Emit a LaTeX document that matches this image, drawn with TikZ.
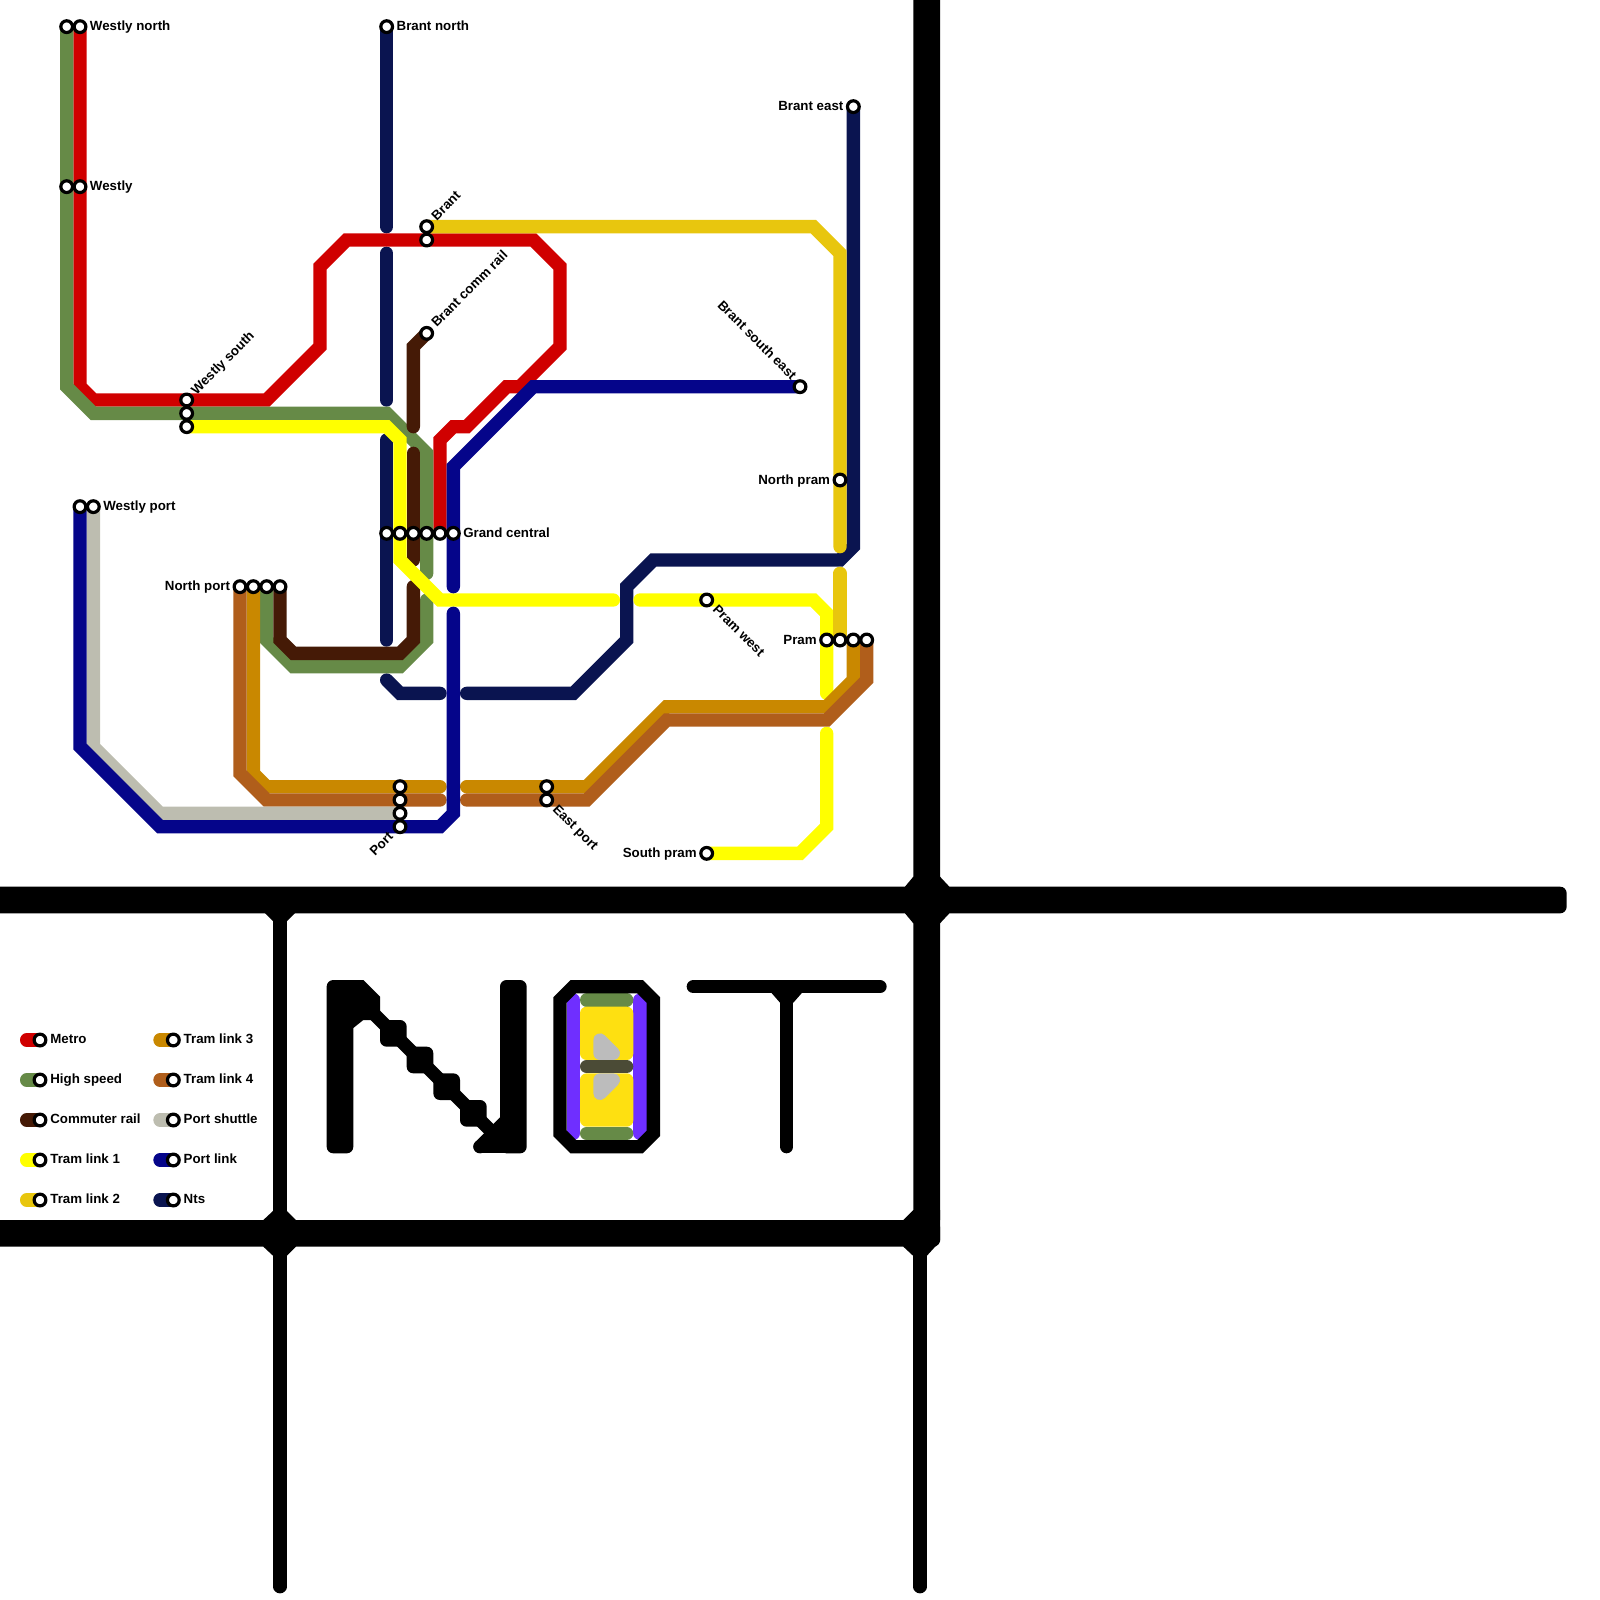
\documentclass[tikz,border=0pt]{standalone}
\usepackage{fontspec}
\setmainfont{Liberation Sans}
\definecolor{cMetro}{HTML}{D00000}
\definecolor{cHigh}{HTML}{668A47}
\definecolor{cComm}{HTML}{451A06}
\definecolor{cTramA}{HTML}{FFFF00}
\definecolor{cTramB}{HTML}{E8C60E}
\definecolor{cTramC}{HTML}{C98800}
\definecolor{cTramD}{HTML}{B05E1B}
\definecolor{cShut}{HTML}{BDBDB0}
\definecolor{cPort}{HTML}{05058A}
\definecolor{cNts}{HTML}{0A1450}
\definecolor{cPurple}{HTML}{6F2FFF}
\definecolor{cGold}{HTML}{FEE011}
\definecolor{cDark}{HTML}{4B4B36}
\definecolor{cGrey}{HTML}{BCBCBC}
\tikzset{
  rail/.style={line width=0.25cm,line cap=round,line join=miter,miter limit=10},
  blk/.style={rail,draw=black},
  bar/.style={fill=black,rounded corners=3.5pt},
  stn/.style={circle,draw=black,fill=white,line width=0.06cm,minimum size=0.22cm,inner sep=0pt,outer sep=0pt},
  lbl/.style={font=\bfseries\fontsize{7.1}{8}\selectfont,inner sep=0pt,text=black},
  rlbl/.style={lbl,anchor=base west},
  llbl/.style={lbl,anchor=base east},
}
\begin{document}
\begin{tikzpicture}[x=0.25cm,y=-0.25cm]
\useasboundingbox (0,0) rectangle (120,120);
% station coordinates
\foreach \n/\p in {wnA/{5,2},wnB/{6,2},wA/{5,14},wB/{6,14},bn/{29,2},brA/{32,17},brB/{32,18},bc/{32,25},
  wsA/{14,30},wsB/{14,31},wsC/{14,32},gcA/{29,40},gcB/{30,40},gcC/{31,40},gcD/{32,40},gcE/{33,40},gcF/{34,40},
  wpA/{6,38},wpB/{7,38},npA/{18,44},npB/{19,44},npC/{20,44},npD/{21,44},
  poA/{30,59},poB/{30,60},poC/{30,61},poD/{30,62},epA/{41,59},epB/{41,60},
  be/{64,8},bse/{60,29},npr/{63,36},prA/{62,48},prB/{63,48},prC/{64,48},prD/{65,48},pw/{53,45},sp/{53,64}}
  {\coordinate (\n) at (\p);}
% Nts
\draw[rail,cNts] (bn)--(29,17);
\draw[rail,cNts] (29,19)--(29,30);
\draw[rail,cNts] (29,33)--(29,48);
\draw[rail,cNts] (29,51)--(30,52)--(33,52);
\draw[rail,cNts] (35,52)--(43,52)--(47,48)--(47,44)--(49,42)--(63,42)--(64,41)--(be);
% Metro
\draw[rail,cMetro] (wnB)--(6,29)--(7,30)--(20,30)--(24,26)--(24,20)--(26,18)--(40,18)--(42,20)--(42,26)--(39,29)--(38,29)--(35,32)--(34,32)--(33,33)--(gcE);
% High speed
\draw[rail,cHigh] (wnA)--(5,29)--(7,31)--(29,31)--(32,34)--(32,43);
\draw[rail,cHigh] (32,45)--(32,48)--(30,50)--(22,50)--(20,48)--(npC);
% Commuter
\draw[rail,cComm] (bc)--(31,26)--(31,32);
\draw[rail,cComm] (31,34)--(31,42);
\draw[rail,cComm] (31,44)--(31,48)--(30,49)--(22,49)--(21,48)--(npD);
% Tram 1
\draw[rail,cTramA] (wsC)--(29,32)--(30,33)--(30,42)--(33,45)--(46,45);
\draw[rail,cTramA] (48,45)--(61,45)--(62,46)--(62,52);
\draw[rail,cTramA] (62,55)--(62,62)--(60,64)--(sp);
% Tram 2
\draw[rail,cTramB] (brA)--(61,17)--(63,19)--(63,41);
\draw[rail,cTramB] (63,43)--(prB);
% Tram 3
\draw[rail,cTramC] (npB)--(19,58)--(20,59)--(33,59);
\draw[rail,cTramC] (35,59)--(44,59)--(50,53)--(62,53)--(64,51)--(prC);
% Tram 4
\draw[rail,cTramD] (npA)--(18,58)--(20,60)--(33,60);
\draw[rail,cTramD] (35,60)--(44,60)--(50,54)--(62,54)--(65,51)--(prD);
% Port shuttle
\draw[rail,cShut] (wpB)--(7,56)--(12,61)--(poC);
% Port link
\draw[rail,cPort] (bse)--(40,29)--(34,35)--(34,44);
\draw[rail,cPort] (34,46)--(34,61)--(33,62)--(12,62)--(6,56)--(wpA);
% stations
\foreach \n in {wnA,wnB,wA,wB,bn,brA,brB,bc,wsA,wsB,wsC,gcA,gcB,gcC,gcD,gcE,gcF,wpA,wpB,npA,npB,npC,npD,poA,poB,poC,poD,epA,epB,be,bse,npr,prA,prB,prC,prD,pw,sp}
  {\node[stn] (s\n) at (\n) {};}
% labels
\node[rlbl] (lwn) at (6.72,2.3) {Westly north};
\node[rlbl] (lw) at (6.72,14.3) {Westly};
\node[rlbl] (lbn) at (29.72,2.3) {Brant north};
\node[rlbl] (lgc) at (34.72,40.3) {Grand central};
\node[rlbl] (lwp) at (7.72,38.3) {Westly port};
\node[llbl] (lnp) at (17.28,44.3) {North port};
\node[llbl] (lbe) at (63.28,8.3) {Brant east};
\node[llbl] (lnpr) at (62.28,36.3) {North pram};
\node[llbl] (lpr) at (61.28,48.3) {Pram};
\node[llbl] (lsp) at (52.28,64.3) {South pram};
\node[rlbl,rotate=45] (lbr) at (32.74,16.61) {Brant};
\node[rlbl,rotate=45] (lbc) at (32.74,24.61) {Brant comm rail};
\node[rlbl,rotate=45] (lws) at (14.72,29.65) {Westly south};
\node[llbl,rotate=45] (lpo) at (29.56,62.8) {Port};
\node[rlbl,rotate=-45] (lep) at (41.39,60.74) {East port};
\node[rlbl,rotate=-45] (lpw) at (53.39,45.74) {Pram west};
\node[llbl,rotate=-45] (lbse) at (59.35,28.55) {Brant south east};
% legend
\foreach \y/\c/\t in {78/cMetro/Metro,81/cHigh/High speed,84/cComm/Commuter rail,87/cTramA/Tram link 1,90/cTramB/Tram link 2}{
  \draw[rail,\c] (2,\y)--(3,\y);
  \node[stn] (k\y) at (3,\y) {};
  \node[rlbl] (kl\y) at (3.75,\y+0.27) {\t};
}
\foreach \y/\c/\t in {78/cTramC/Tram link 3,81/cTramD/Tram link 4,84/cShut/Port shuttle,87/cPort/Port link,90/cNts/Nts}{
  \draw[rail,\c] (12,\y)--(13,\y);
  \node[stn] (m\y) at (13,\y) {};
  \node[rlbl] (ml\y) at (13.75,\y+0.27) {\t};
}
% frame
\path[bar] (-2,66.5) rectangle (117.5,68.5);
\path[bar] (-2,91.5) rectangle (70.5,93.5);
\path[bar] (68.5,-2) rectangle (70.5,92);
\draw[blk] (69,93)--(69,119);
\draw[blk] (21,68)--(21,119);
\fill (67.875,66.5)--(68.5,65.75)--(70.5,65.75)--(71.2,66.5)--(71.2,68.5)--(70.5,69.25)--(68.5,69.25)--(67.875,68.5)--cycle;
\fill (19.75,91.5)--(20.5,90.8)--(21.5,90.8)--(22.2,91.5)--(22.2,93.5)--(21.5,94.2)--(20.5,94.2)--(19.75,93.5)--cycle;
\fill (67.75,91.5)--(68.5,90.75)--(70.5,90.75)--(70.5,93.1)--(69.5,94.2)--(68.5,94.2)--(67.75,93.5)--cycle;
\fill (19.8,68.4)--(20.5,69.1)--(21.5,69.1)--(22.2,68.4)--cycle;
% N
\path[bar] (24.5,73.5) rectangle (26.5,86.5);
\path[bar] (37.5,73.5) rectangle (39.5,86.5);
\fill (25,73.5)--(27.25,73.5)--(28.5,74.75)--(28.5,76.5)--(27.25,76.5)--(26.5,77.1)--(25,77.1)--cycle;
\draw[blk,line cap=butt] (27,75)--(37,85);
\foreach \bx/\by in {29/77,31/79,33/81,35/83}{
  \path[bar] (\bx-0.5,\by-0.5) rectangle (\bx+1.5,\by+1.5);
}
\draw[blk] (36,86)--(38,86);
\draw[blk] (36,86)--(37,85)--(38,85);
\draw[blk] (37,85)--(38,84);
% O
\draw[rail,cPurple] (43,75)--(43,85);
\draw[rail,cPurple] (48,75)--(48,85);
\draw[rail,cHigh] (44,75)--(47,75);
\draw[rail,cHigh] (44,85)--(47,85);
\fill[cGold,rounded corners=3.5pt] (43.5,75.5) rectangle (47.5,79.5);
\fill[cGold,rounded corners=3.5pt] (43.5,80.5) rectangle (47.5,84.5);
\draw[rail,cGrey,line join=round,fill=cGrey] (45,78)--(46,79)--(45,79)--cycle;
\draw[rail,cGrey,line join=round,fill=cGrey] (45,81)--(46,81)--(45,82)--cycle;
\draw[rail,cDark] (44,80)--(47,80);
\draw[blk] (42,75)--(43,74)--(48,74)--(49,75)--(49,85)--(48,86)--(43,86)--(42,85)--cycle;
% T
\draw[blk] (52,74)--(66,74);
\draw[blk] (59,74)--(59,86);
\fill (57.8,74.4)--(58.5,75.2)--(59.5,75.2)--(60.2,74.4)--cycle;
\end{tikzpicture}
\end{document}
